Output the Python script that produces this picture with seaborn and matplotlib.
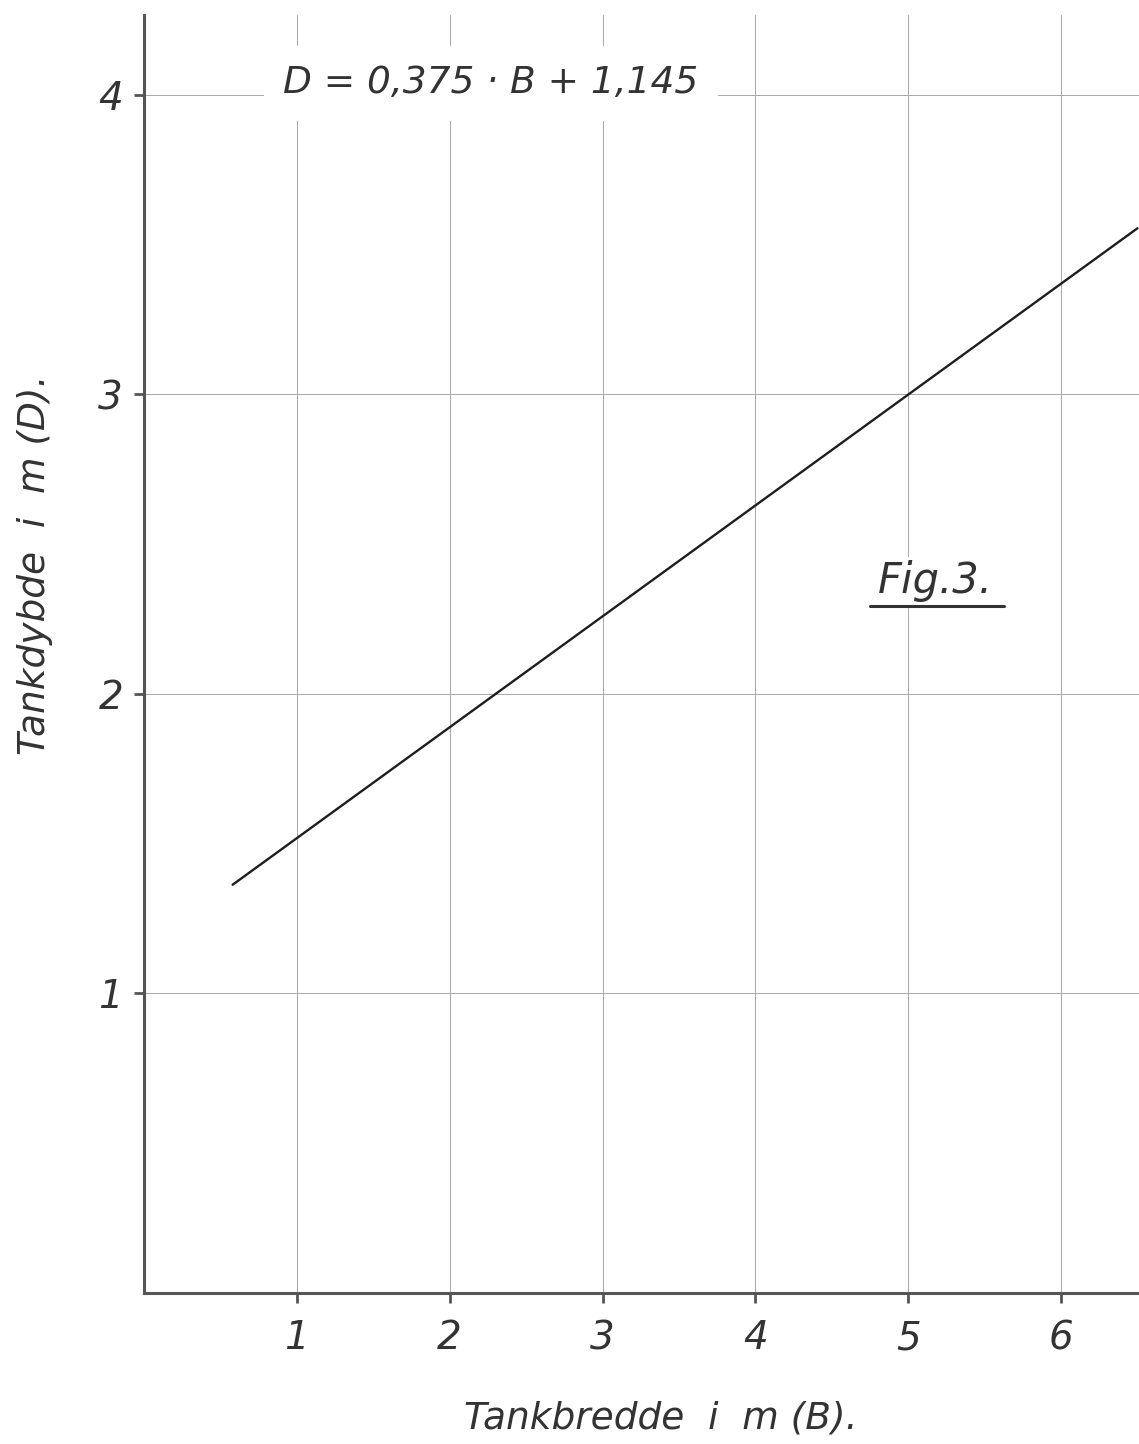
import matplotlib
matplotlib.use("Agg")
import matplotlib.pyplot as plt
import seaborn as sns
import pandas as pd

# Values
bredde = [0.58, 6.5]      # B, tank width in m (line end points)
dybde = [1.363, 3.555]    # D, tank depth in m
x_ticks = [1, 2, 3, 4, 5, 6]
y_ticks = [1, 2, 3, 4]

df = pd.DataFrame({"B": bredde, "D": dybde})

sns.set_theme(style="whitegrid")
plt.rcParams["font.family"] = ["DejaVu Sans"]
plt.rcParams["font.style"] = "italic"

fig = plt.figure(figsize=(11.39, 14.44), dpi=100)
ax = fig.add_axes([0.1264, 0.1046, 0.8736, 0.8850])

sns.lineplot(data=df, x="B", y="D", color="#1e1e1e", linewidth=1.7, ax=ax)

ax.set_xlim(0, 6.51)
ax.set_ylim(0, 4.267)
ax.set_xticks(x_ticks)
ax.set_yticks(y_ticks)
ax.set_xticklabels([str(v) for v in x_ticks], fontsize=28, style="italic", color="#333333")
ax.set_yticklabels([str(v) for v in y_ticks], fontsize=28, style="italic", color="#333333")

ax.set_facecolor("white")
ax.grid(True, color="#a8a8a8", linewidth=0.7)
for side in ["top", "right"]:
    ax.spines[side].set_visible(False)
for side in ["left", "bottom"]:
    ax.spines[side].set_visible(True)
    ax.spines[side].set_color("#555555")
    ax.spines[side].set_linewidth(2.2)

ax.tick_params(axis="both", which="major", direction="out", length=7, width=2,
               color="#555555", bottom=True, left=True)
ax.tick_params(axis="x", pad=12)
ax.tick_params(axis="y", pad=8)

ax.set_xlabel("Tankbredde  i  m (B).", fontsize=27, style="italic", color="#333333")
ax.set_ylabel("Tankdybde  i  m (D).", fontsize=27, style="italic", color="#333333")
ax.xaxis.set_label_coords(0.519, -0.098)
ax.xaxis.label.set_verticalalignment("center")
ax.yaxis.set_label_coords(-0.11, 0.57)
ax.yaxis.label.set_verticalalignment("center")

# Equation in the top, on white so the grid is broken behind it
ax.text(2.27, 4.04, "D = 0,375 · B + 1,145", fontsize=27, style="italic", color="#333333",
        ha="center", va="center", zorder=5,
        bbox=dict(facecolor="white", edgecolor="none", pad=14))

# Figure number, underlined
ax.text(5.18, 2.377, "Fig.3.", fontsize=30, style="italic", color="#333333",
        ha="center", va="center", zorder=5,
        bbox=dict(facecolor="white", edgecolor="none", pad=2))
ax.plot([4.75, 5.63], [2.293, 2.293], color="#333333", linewidth=2.2, zorder=6)

fig.savefig("out.png", dpi=100)
